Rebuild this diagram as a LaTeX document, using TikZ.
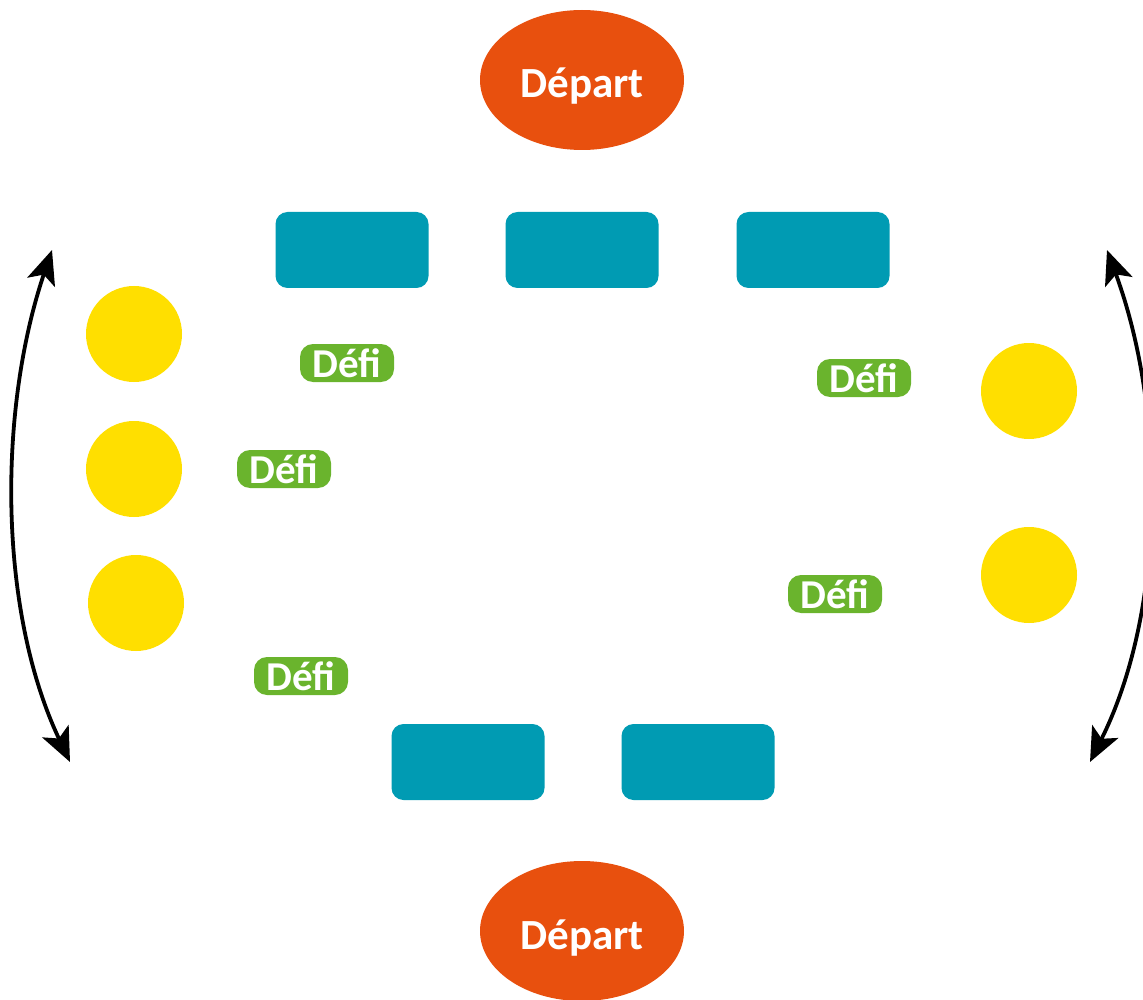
\documentclass[tikz,border=0pt]{standalone}
\usepackage{fontspec}
\setmainfont{Carlito}
\usetikzlibrary{arrows.meta,shapes.geometric}
\definecolor{startorange}{HTML}{E8500E}
\definecolor{stationteal}{HTML}{009BB3}
\definecolor{tokenyellow}{HTML}{FFDF00}
\definecolor{defigreen}{HTML}{6AB42D}
\tikzset{
  startnode/.style={ellipse, fill=startorange, minimum width=204pt, minimum height=140pt,
    inner sep=0pt, text=white, text height=36pt, text depth=0pt,
    font=\bfseries\fontsize{43}{43}\selectfont},
  station/.style={rectangle, rounded corners=12pt, fill=stationteal,
    minimum width=153pt, minimum height=76pt, inner sep=0pt},
  token/.style={circle, fill=tokenyellow, minimum size=96pt, inner sep=0pt},
  defi/.style={rectangle, rounded corners=13pt, fill=defigreen, minimum width=94pt,
    minimum height=38pt, inner sep=0pt, text=white, text height=28pt, text depth=0pt,
    font=\bfseries\fontsize{41}{41}\selectfont},
  swing/.style={line width=3.8pt,
    {Stealth[length=34pt,width=29pt,inset=8pt]}-{Stealth[length=34pt,width=29pt,inset=8pt]}}
}
\begin{document}
\begin{tikzpicture}[x=1pt,y=-1pt]
\useasboundingbox (0,0) rectangle (1143,1000);
% start points
\node[startnode] (top) at (582,80) {Départ};
\node[startnode] (bottom) at (582,931) {Départ};
% stations
\node[station] (s1) at (352,250) {};
\node[station] (s2) at (582,250) {};
\node[station] (s3) at (813,250) {};
\node[station] (s4) at (468,762) {};
\node[station] (s5) at (698,762) {};
% tokens
\node[token] (y1) at (134,334) {};
\node[token] (y2) at (134,469) {};
\node[token] (y3) at (136,603) {};
\node[token] (y4) at (1029,391) {};
\node[token] (y5) at (1029,575) {};
% challenges
\node[defi] (d1) at (347,363) {Défi};
\node[defi] (d2) at (284,469) {Défi};
\node[defi] (d3) at (301,676) {Défi};
\node[defi] (d4) at (864,378) {Défi};
\node[defi] (d5) at (835,594) {Défi};
% rotation arrows
\coordinate (lt) at (52,250);
\coordinate (lb) at (70,762);
\coordinate (rt) at (1107,250);
\coordinate (rb) at (1090,762);
\draw[swing] (lt) .. controls (-2,410) and (-2,610) .. (lb);
\draw[swing] (rt) .. controls (1166,410) and (1166,610) .. (rb);
\end{tikzpicture}
\end{document}
